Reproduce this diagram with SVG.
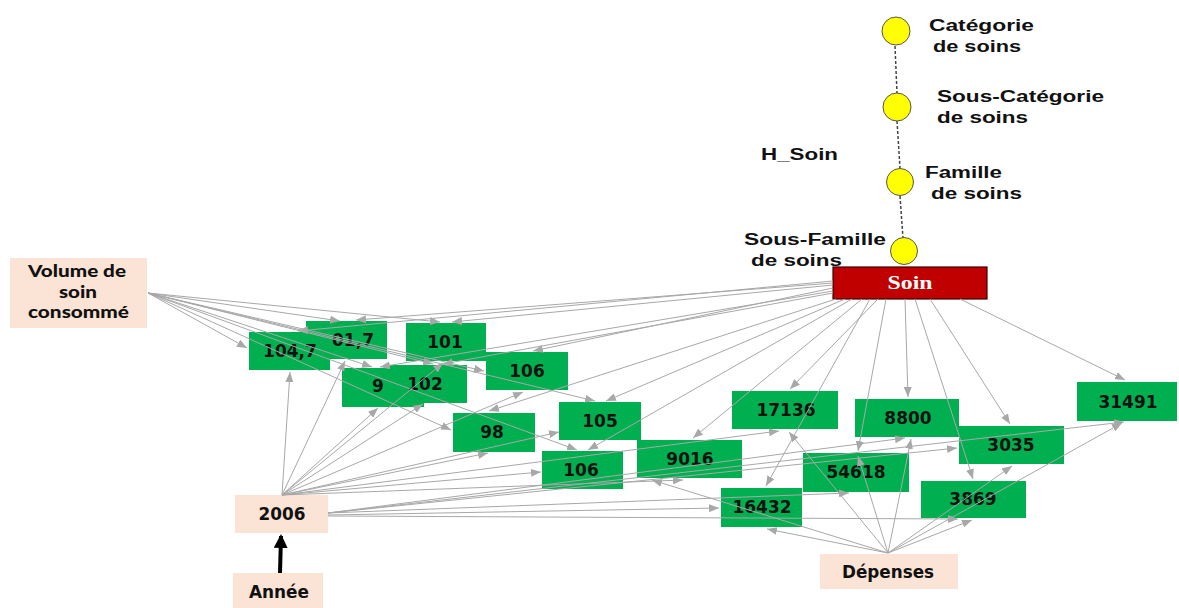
<svg xmlns="http://www.w3.org/2000/svg" width="1179" height="608" viewBox="0 0 1179 608">
<style>
.g{fill:#00b050}
.p{fill:#fbe3d5}
.num{font-family:"DejaVu Sans",Verdana,sans-serif;font-weight:bold;font-size:17px;fill:#111;text-anchor:middle}
.lab{font-family:"Liberation Sans",Arial,sans-serif;font-weight:bold;font-size:16px;fill:#111}
.cal{font-family:Lato,"Open Sans",sans-serif;font-weight:900;font-size:16px;fill:#111}
.c{stroke:#a8a8a8;stroke-width:1;fill:none;marker-end:url(#ah)}
.h{stroke:#444;stroke-width:1.5;stroke-dasharray:3 2;fill:none}
.y{fill:#ffff00;stroke:#555;stroke-width:1}
</style>
<defs>
<marker id="ah" markerUnits="userSpaceOnUse" markerWidth="10" markerHeight="8" refX="10" refY="4" orient="auto">
<path d="M0,0 L10,4 L0,8 z" fill="#a8a8a8"/>
</marker>
<marker id="bk" markerUnits="userSpaceOnUse" markerWidth="14" markerHeight="14" refX="12" refY="7" orient="auto">
<path d="M0,0 L14,7 L0,14 z" fill="#000"/>
</marker>
</defs>
<rect width="1179" height="608" fill="#fff"/>

<g id="hierarchy">
<line class="h" x1="895" y1="46" x2="897" y2="93"/>
<line class="h" x1="897" y1="121" x2="900" y2="168"/>
<line class="h" x1="900" y1="196" x2="903" y2="238"/>
<text class="lab" x="761" y="160" textLength="77" lengthAdjust="spacingAndGlyphs">H_Soin</text>
</g>
<g id="n-categorie">
<circle class="y" cx="896" cy="31" r="14"/>
<text class="lab" x="929" y="31" textLength="105" lengthAdjust="spacingAndGlyphs">Catégorie</text>
<text class="lab" x="933" y="52" textLength="88" lengthAdjust="spacingAndGlyphs">de soins</text>
</g>
<g id="n-souscategorie">
<circle class="y" cx="897" cy="107" r="14"/>
<text class="lab" x="937" y="102" textLength="167" lengthAdjust="spacingAndGlyphs">Sous-Catégorie</text>
<text class="lab" x="937" y="123" textLength="91" lengthAdjust="spacingAndGlyphs">de soins</text>
</g>
<g id="n-famille">
<circle class="y" cx="900" cy="182" r="13.5"/>
<text class="lab" x="925" y="178" textLength="77" lengthAdjust="spacingAndGlyphs">Famille</text>
<text class="lab" x="931" y="199" textLength="91" lengthAdjust="spacingAndGlyphs">de soins</text>
</g>
<g id="n-sousfamille">
<text class="lab" x="744" y="245" textLength="142" lengthAdjust="spacingAndGlyphs">Sous-Famille</text>
<text class="lab" x="751" y="266" textLength="91" lengthAdjust="spacingAndGlyphs">de soins</text>
</g>
<g id="n-soin">
<rect x="833" y="267" width="154" height="32" fill="#c00000" stroke="#400000" stroke-width="1.2"/>
<text x="910" y="289" font-family="'Liberation Serif','Times New Roman',serif" font-weight="bold" font-size="19" fill="#fff" text-anchor="middle" textLength="45" lengthAdjust="spacingAndGlyphs">Soin</text>
</g>
<g id="n-sousfamille-dot">
<circle class="y" cx="904" cy="251" r="13.5"/>
</g>

<g id="n-volume">
<rect class="p" x="10" y="258" width="137" height="70"/>
<text class="cal" x="28" y="277" textLength="98" lengthAdjust="spacingAndGlyphs">Volume de</text>
<text class="cal" x="59" y="298" textLength="38" lengthAdjust="spacingAndGlyphs">soin</text>
<text class="cal" x="28" y="318" textLength="101" lengthAdjust="spacingAndGlyphs">consommé</text>
</g>
<g id="n-2006">
<rect class="p" x="235" y="495" width="93" height="38"/>
<text class="num" x="282" y="520" textLength="47" lengthAdjust="spacingAndGlyphs">2006</text>
</g>
<g id="n-annee">
<rect class="p" x="233" y="573" width="90" height="35"/>
<text class="num" x="279" y="598" textLength="60" lengthAdjust="spacingAndGlyphs">Année</text>
</g>
<g id="n-depenses">
<rect class="p" x="820" y="554" width="138" height="35"/>
<text class="num" x="888" y="578" textLength="92" lengthAdjust="spacingAndGlyphs">Dépenses</text>
</g>

<g id="n-017"><rect class="g" x="306" y="321" width="81" height="38"/><text class="num" x="353" y="346">01,7</text></g>
<g id="n-1047"><rect class="g" x="249" y="332" width="81" height="38"/><text class="num" x="290" y="357">104,7</text></g>
<g id="n-101"><rect class="g" x="406" y="323" width="80" height="38"/><text class="num" x="445" y="348">101</text></g>
<g id="n-106a"><rect class="g" x="486" y="352" width="82" height="38"/><text class="num" x="527" y="377">106</text></g>
<g id="n-9"><rect class="g" x="342" y="368" width="82" height="39"/><text class="num" x="378" y="392">9</text></g>
<g id="n-102"><rect class="g" x="385" y="365" width="82" height="38"/><text class="num" x="425" y="390">102</text></g>
<g id="n-98"><rect class="g" x="453" y="413" width="82" height="39"/><text class="num" x="492" y="438">98</text></g>
<g id="n-105"><rect class="g" x="559" y="402" width="82" height="38"/><text class="num" x="600" y="427">105</text></g>
<g id="n-106b"><rect class="g" x="542" y="451" width="81" height="38"/><text class="num" x="581" y="476">106</text></g>
<g id="n-9016"><rect class="g" x="637" y="440" width="105" height="38"/><text class="num" x="690" y="465">9016</text></g>
<g id="n-17136"><rect class="g" x="732" y="391" width="106" height="38"/><text class="num" x="786" y="416">17136</text></g>
<g id="n-8800"><rect class="g" x="855" y="399" width="104" height="38"/><text class="num" x="908" y="424">8800</text></g>
<g id="n-54618"><rect class="g" x="803" y="453" width="106" height="39"/><text class="num" x="856" y="478">54618</text></g>
<g id="n-16432"><rect class="g" x="721" y="488" width="81" height="39"/><text class="num" x="762" y="513">16432</text></g>
<g id="n-3035"><rect class="g" x="959" y="426" width="105" height="38"/><text class="num" x="1011" y="451">3035</text></g>
<g id="n-3869"><rect class="g" x="921" y="481" width="105" height="37"/><text class="num" x="973" y="505">3869</text></g>
<g id="n-31491"><rect class="g" x="1077" y="382" width="100" height="39"/><text class="num" x="1128" y="408">31491</text></g>

<g id="connectors">
<line class="c" x1="148" y1="293" x2="247" y2="348"/>
<line class="c" x1="148" y1="293" x2="340" y2="321"/>
<line class="c" x1="148" y1="293" x2="440" y2="322"/>
<line class="c" x1="148" y1="293" x2="484" y2="371"/>
<line class="c" x1="148" y1="293" x2="372" y2="367"/>
<line class="c" x1="148" y1="293" x2="433" y2="364"/>
<line class="c" x1="148" y1="293" x2="451" y2="430"/>
<line class="c" x1="148" y1="293" x2="595" y2="401"/>
<line class="c" x1="148" y1="293" x2="577" y2="450"/>

<line class="c" x1="833" y1="281" x2="298" y2="331"/>
<line class="c" x1="833" y1="283" x2="356" y2="320"/>
<line class="c" x1="833" y1="285" x2="452" y2="322"/>
<line class="c" x1="833" y1="288" x2="533" y2="351"/>
<line class="c" x1="833" y1="291" x2="380" y2="367"/>
<line class="c" x1="833" y1="293" x2="443" y2="364"/>
<line class="c" x1="836" y1="299" x2="489" y2="411"/>
<line class="c" x1="845" y1="299" x2="606" y2="401"/>
<line class="c" x1="852" y1="299" x2="588" y2="450"/>
<line class="c" x1="862" y1="299" x2="693" y2="438"/>
<line class="c" x1="870" y1="299" x2="766" y2="486"/>
<line class="c" x1="878" y1="299" x2="790" y2="389"/>
<line class="c" x1="886" y1="299" x2="858" y2="451"/>
<line class="c" x1="905" y1="299" x2="908" y2="397"/>
<line class="c" x1="915" y1="299" x2="973" y2="479"/>
<line class="c" x1="930" y1="299" x2="1010" y2="424"/>
<line class="c" x1="960" y1="299" x2="1125" y2="380"/>

<line class="c" x1="282" y1="495" x2="290" y2="372"/>
<line class="c" x1="282" y1="495" x2="345" y2="361"/>
<line class="c" x1="282" y1="495" x2="378" y2="408"/>
<line class="c" x1="282" y1="495" x2="443" y2="363"/>
<line class="c" x1="282" y1="495" x2="423" y2="404"/>
<line class="c" x1="282" y1="495" x2="523" y2="392"/>
<line class="c" x1="282" y1="495" x2="488" y2="453"/>
<line class="c" x1="282" y1="495" x2="559" y2="432"/>
<line class="c" x1="282" y1="495" x2="541" y2="472"/>
<line class="c" x1="282" y1="495" x2="683" y2="480"/>
<line class="c" x1="282" y1="495" x2="779" y2="431"/>
<line class="c" x1="328" y1="513" x2="905" y2="438"/>
<line class="c" x1="328" y1="513" x2="849" y2="493"/>
<line class="c" x1="328" y1="515" x2="719" y2="508"/>
<line class="c" x1="328" y1="513" x2="957" y2="448"/>
<line class="c" x1="328" y1="516" x2="958" y2="519"/>
<line class="c" x1="328" y1="513" x2="1124" y2="422"/>

<line class="c" x1="888" y1="553" x2="652" y2="480"/>
<line class="c" x1="888" y1="553" x2="789" y2="432"/>
<line class="c" x1="888" y1="553" x2="911" y2="439"/>
<line class="c" x1="888" y1="553" x2="858" y2="456"/>
<line class="c" x1="888" y1="553" x2="767" y2="529"/>
<line class="c" x1="888" y1="553" x2="1012" y2="466"/>
<line class="c" x1="888" y1="553" x2="972" y2="520"/>
<line class="c" x1="888" y1="553" x2="1122" y2="423"/>

<line x1="280" y1="573" x2="281" y2="536" stroke="#000" stroke-width="4" marker-end="url(#bk)"/>
</g>
</svg>
